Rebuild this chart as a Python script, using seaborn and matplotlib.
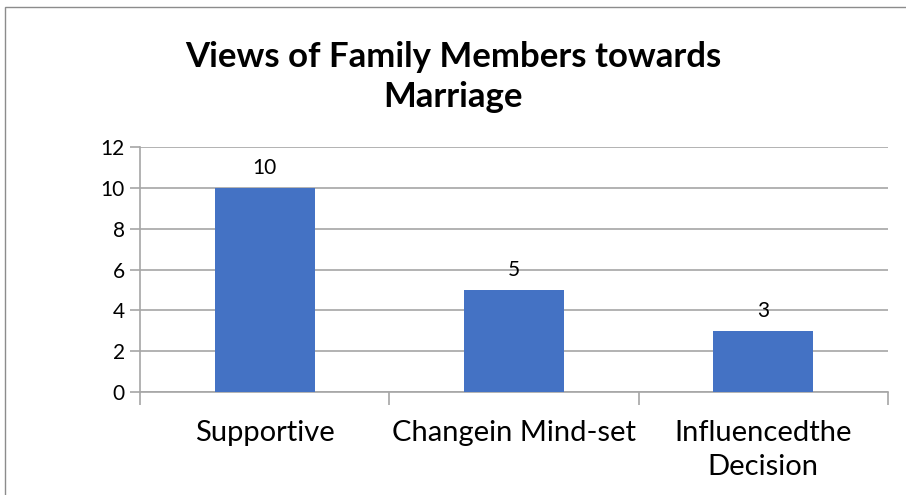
import matplotlib
matplotlib.use("Agg")
import matplotlib.pyplot as plt
from matplotlib.patches import Rectangle
import seaborn as sns
import pandas as pd

# data
categories = ["Supportive", "Changein Mind-set", "Influencedthe\nDecision"]
counts = [10, 5, 3]
y_ticks = [0, 2, 4, 6, 8, 10, 12]
title = "Views of Family Members towards\nMarriage"

df = pd.DataFrame({"category": categories, "count": counts})

sns.set_theme(style="white")
plt.rcParams["font.family"] = ["Lato", "DejaVu Sans"]
plt.rcParams["text.color"] = "black"

fig = plt.figure(figsize=(9.06, 4.95), dpi=100)
ax = fig.add_axes([140 / 906, 1 - 392 / 495, 748 / 906, 245 / 495])

sns.barplot(data=df, x="category", y="count", color="#4472C4", width=0.4,
            saturation=1, linewidth=0, ax=ax, zorder=3)

grid_col = "#a6a6a6"
ax.set_ylim(0, 12)
ax.set_xlim(-0.5, len(categories) - 0.5)
ax.set_yticks(y_ticks)
ax.yaxis.grid(True, color=grid_col, linewidth=1.2, zorder=0)
ax.set_axisbelow(True)
for s in ["top", "right"]:
    ax.spines[s].set_visible(False)
for s in ["left", "bottom"]:
    ax.spines[s].set_color(grid_col)
    ax.spines[s].set_linewidth(1.2)

ax.tick_params(axis="y", length=7, width=1.2, color=grid_col, labelsize=15, pad=4,
               left=True, labelcolor="black")
ax.tick_params(axis="x", which="major", length=0, labelsize=21, pad=20, labelcolor="black")
for lbl in ax.get_xticklabels():
    lbl.set_linespacing(1.4)
ax.set_xticks([-0.5, 0.5, 1.5, 2.5], minor=True)
ax.tick_params(axis="x", which="minor", length=9, width=1.2, color=grid_col, bottom=True)
ax.set_xlabel("")
ax.set_ylabel("")

for c in ax.containers:
    ax.bar_label(c, labels=[str(v) for v in counts], fontsize=15, padding=7, color="black")

fig.text(0.5, 1 - 77 / 495, title, ha="center", va="center", fontsize=25,
         fontweight="bold", linespacing=1.32, color="black")
# chart title area clipped like the source
fig.add_artist(Rectangle((0.1, 1 - 140 / 495), 0.8, 27 / 495, transform=fig.transFigure,
                         facecolor="white", edgecolor="none", zorder=5))
# outer chart border
fig.add_artist(Rectangle((5 / 906, -0.2), 1.2, 1.2 - 7 / 495,
                         transform=fig.transFigure, fill=False,
                         edgecolor="#8c8c8c", linewidth=1.0, zorder=6))

fig.savefig("out.png", dpi=100)
